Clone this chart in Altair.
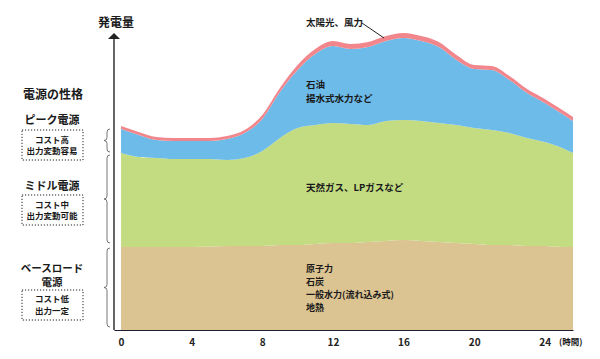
import altair as alt
import pandas as pd

# ---- data (arbitrary generation units) ----
hours = [0, 1, 2, 3, 4, 5, 6, 7, 8, 9, 10, 11, 12, 13, 14, 15, 16, 17,
         18, 19, 20, 21, 22, 23, 24, 25, 25.6]
base_load = [83, 83, 83, 83, 83, 83.5, 84, 84, 84, 85, 85, 86, 87, 87, 88,
             89, 90, 89, 88, 87, 86, 85, 85, 84, 84, 83, 83]
middle_load = [94, 90, 89, 88, 88, 87.5, 86, 88, 95, 107, 117, 119, 120, 119,
               117, 120, 120, 120, 119, 118, 116, 115, 112, 108, 104, 99, 94]
peak_load = [24, 22, 18, 18, 18, 18, 21, 25, 32, 46, 58, 71, 77, 75, 78, 80,
             82, 80, 76, 65, 59, 60, 53, 45, 39, 34, 32]
renewables = [3, 3, 3, 3, 3, 3, 3, 3, 4, 4, 5, 5, 5, 5, 5, 5, 5, 5, 5, 5,
              4, 4, 4, 4, 4, 4, 4]

layer_names = ["ベースロード電源", "ミドル電源", "ピーク電源", "太陽光、風力"]
layer_colors = ["#dcc392", "#c3dc82", "#6cbbe9", "#f1878c"]
tick_values = [0, 4, 8, 12, 16, 20, 24]

FONT = "Noto Sans CJK JP"

rows = []
for i, h in enumerate(hours):
    for k, vals in enumerate([base_load, middle_load, peak_load, renewables]):
        rows.append({"hour": h, "layer": layer_names[k], "order": k, "value": vals[i]})
df = pd.DataFrame(rows)

area = alt.Chart(df).mark_area(interpolate="monotone").encode(
    x=alt.X("hour:Q",
            scale=alt.Scale(domain=[-0.4, 25.6], nice=False, zero=False),
            axis=alt.Axis(values=tick_values, title=None, ticks=False, tickSize=0,
                          grid=False, domainColor="#1c1c30", domainWidth=1.2,
                          labelFont=FONT, labelFontSize=10, labelFontWeight="bold",
                          labelColor="#222222", labelPadding=7)),
    y=alt.Y("value:Q", stack="zero",
            scale=alt.Scale(domain=[0, 297], nice=False), axis=None),
    color=alt.Color("layer:N", scale=alt.Scale(domain=layer_names, range=layer_colors),
                    legend=None),
    order=alt.Order("order:Q"),
)

one = pd.DataFrame({"a": [0]})


def label(text, x, y, size=9, weight="bold", align="left", color="#1a1a1a"):
    return alt.Chart(one).mark_text(
        text=text, font=FONT, fontSize=size, fontWeight=weight, align=align,
        baseline="middle", color=color
    ).encode(x=alt.value(x), y=alt.value(y))


def box(x1, x2, y1, y2):
    return alt.Chart(one).mark_rect(
        fill=None, stroke="#222222", strokeWidth=1, strokeDash=[1.2, 1.8]
    ).encode(x=alt.value(x1), x2=alt.value(x2), y=alt.value(y1), y2=alt.value(y2))


def brace(x, y, height):
    h = height / 2.0
    path = (f"M3,{-h} Q0,{-h} 0,{-h + 3} L0,-3 Q0,0 -3,0 Q0,0 0,3 "
            f"L0,{h - 3} Q0,{h} 3,{h}")
    return alt.Chart(one).mark_point(
        shape=path, size=4, filled=False, stroke="#666666", strokeWidth=0.9, opacity=1
    ).encode(x=alt.value(x), y=alt.value(y))


# y axis with arrow
y_line = alt.Chart(one).mark_rule(color="#333333", strokeWidth=1.5).encode(
    x=alt.value(0), y=alt.value(5), y2=alt.value(297))
arrow = alt.Chart(one).mark_point(
    shape="M-1,0.5L1,0.5L0,-0.5Z", size=144, filled=True, color="#222222", opacity=1
).encode(x=alt.value(0), y=alt.value(3))

leader = alt.Chart(one).mark_rule(color="#222222", strokeWidth=1).encode(
    x=alt.value(248), x2=alt.value(270), y=alt.value(-10), y2=alt.value(5))

texts = [
    label("発電量", 2, -10, size=12, align="center"),
    label("太陽光、風力", 192, -10, size=9.5),
    label("石油", 192, 52, size=9.5),
    label("揚水式水力など", 192, 66, size=9.5),
    label("天然ガス、LPガスなど", 192, 155, size=9.5),
    label("原子力", 192, 236),
    label("石炭", 192, 249),
    label("一般水力(流れ込み式)", 192, 262),
    label("地熱", 192, 275),
    label("(時間)", 445, 309, size=8.5),
    label("電源の性格", -61, 62, size=12, align="center"),
    label("ピーク電源", -62, 88, size=11, align="center"),
    label("コスト高", -62, 107, size=8.5, align="center"),
    label("出力変動容易", -62, 118, size=8.5, align="center"),
    label("ミドル電源", -62, 154, size=11, align="center"),
    label("コスト中", -62, 172, size=8.5, align="center"),
    label("出力変動可能", -62, 183, size=8.5, align="center"),
    label("ベースロード", -62, 236, size=10.5, align="center"),
    label("電源", -62, 249.5, size=10.5, align="center"),
    label("コスト低", -62, 266, size=8.5, align="center"),
    label("出力一定", -62, 278, size=8.5, align="center"),
]

boxes = [box(-92, -31, 97, 127), box(-92, -31, 162, 192), box(-92, -31, 257, 287)]
braces = [brace(-7, 107.5, 23), brace(-7, 166, 88), brace(-7, 254.5, 79)]

chart = alt.layer(area, y_line, arrow, leader, *boxes, *braces, *texts).properties(
    width=459, height=297,
    padding={"left": 106, "top": 25, "right": 19, "bottom": 21},
    autosize="none",
    background="white",
).configure_view(stroke=None)

chart.save("out.html", embed_options={"renderer": "svg", "actions": False})
